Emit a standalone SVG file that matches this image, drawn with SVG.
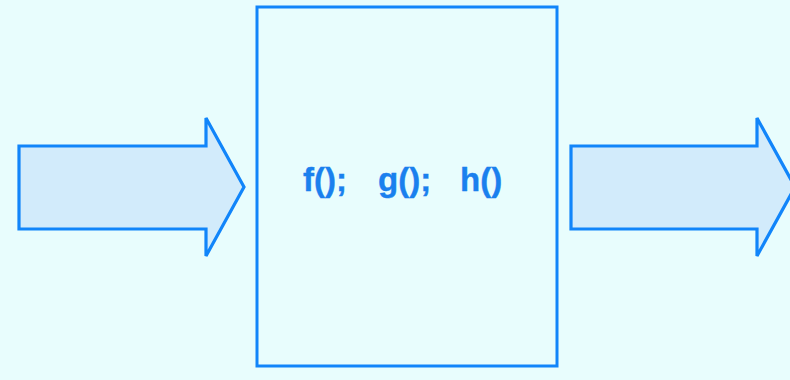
<svg xmlns="http://www.w3.org/2000/svg" width="790" height="380" viewBox="0 0 790 380">
<style>
.bg{fill:#e8fdfd}
.arrow{fill:#d2ebfb;stroke:#1185fa;stroke-width:3.2;stroke-linejoin:miter}
.box{fill:#e8fdfd;stroke:#1185fa;stroke-width:3}
.t{font-family:"Liberation Sans",Arial,sans-serif;font-weight:bold;font-size:33px;fill:#1a80ee;stroke:#1a80ee;stroke-width:0.4}
</style>
<rect class="bg" x="0" y="0" width="790" height="380"/>
<g id="connectors">
<polygon id="arrow-in" class="arrow" points="19,146 206,146 206,118 244,187 206,256 206,229 19,229"/>
<polygon id="arrow-out" class="arrow" points="571,146 757,146 757,118 795,187 757,256 757,229 571,229"/>
</g>
<g id="node-box">
<rect class="box" x="257" y="7" width="300" height="359"/>
<text class="t" x="303" y="191">f();</text>
<text class="t" x="378" y="191">g();</text>
<text class="t" x="460" y="191">h()</text>
</g>
</svg>
